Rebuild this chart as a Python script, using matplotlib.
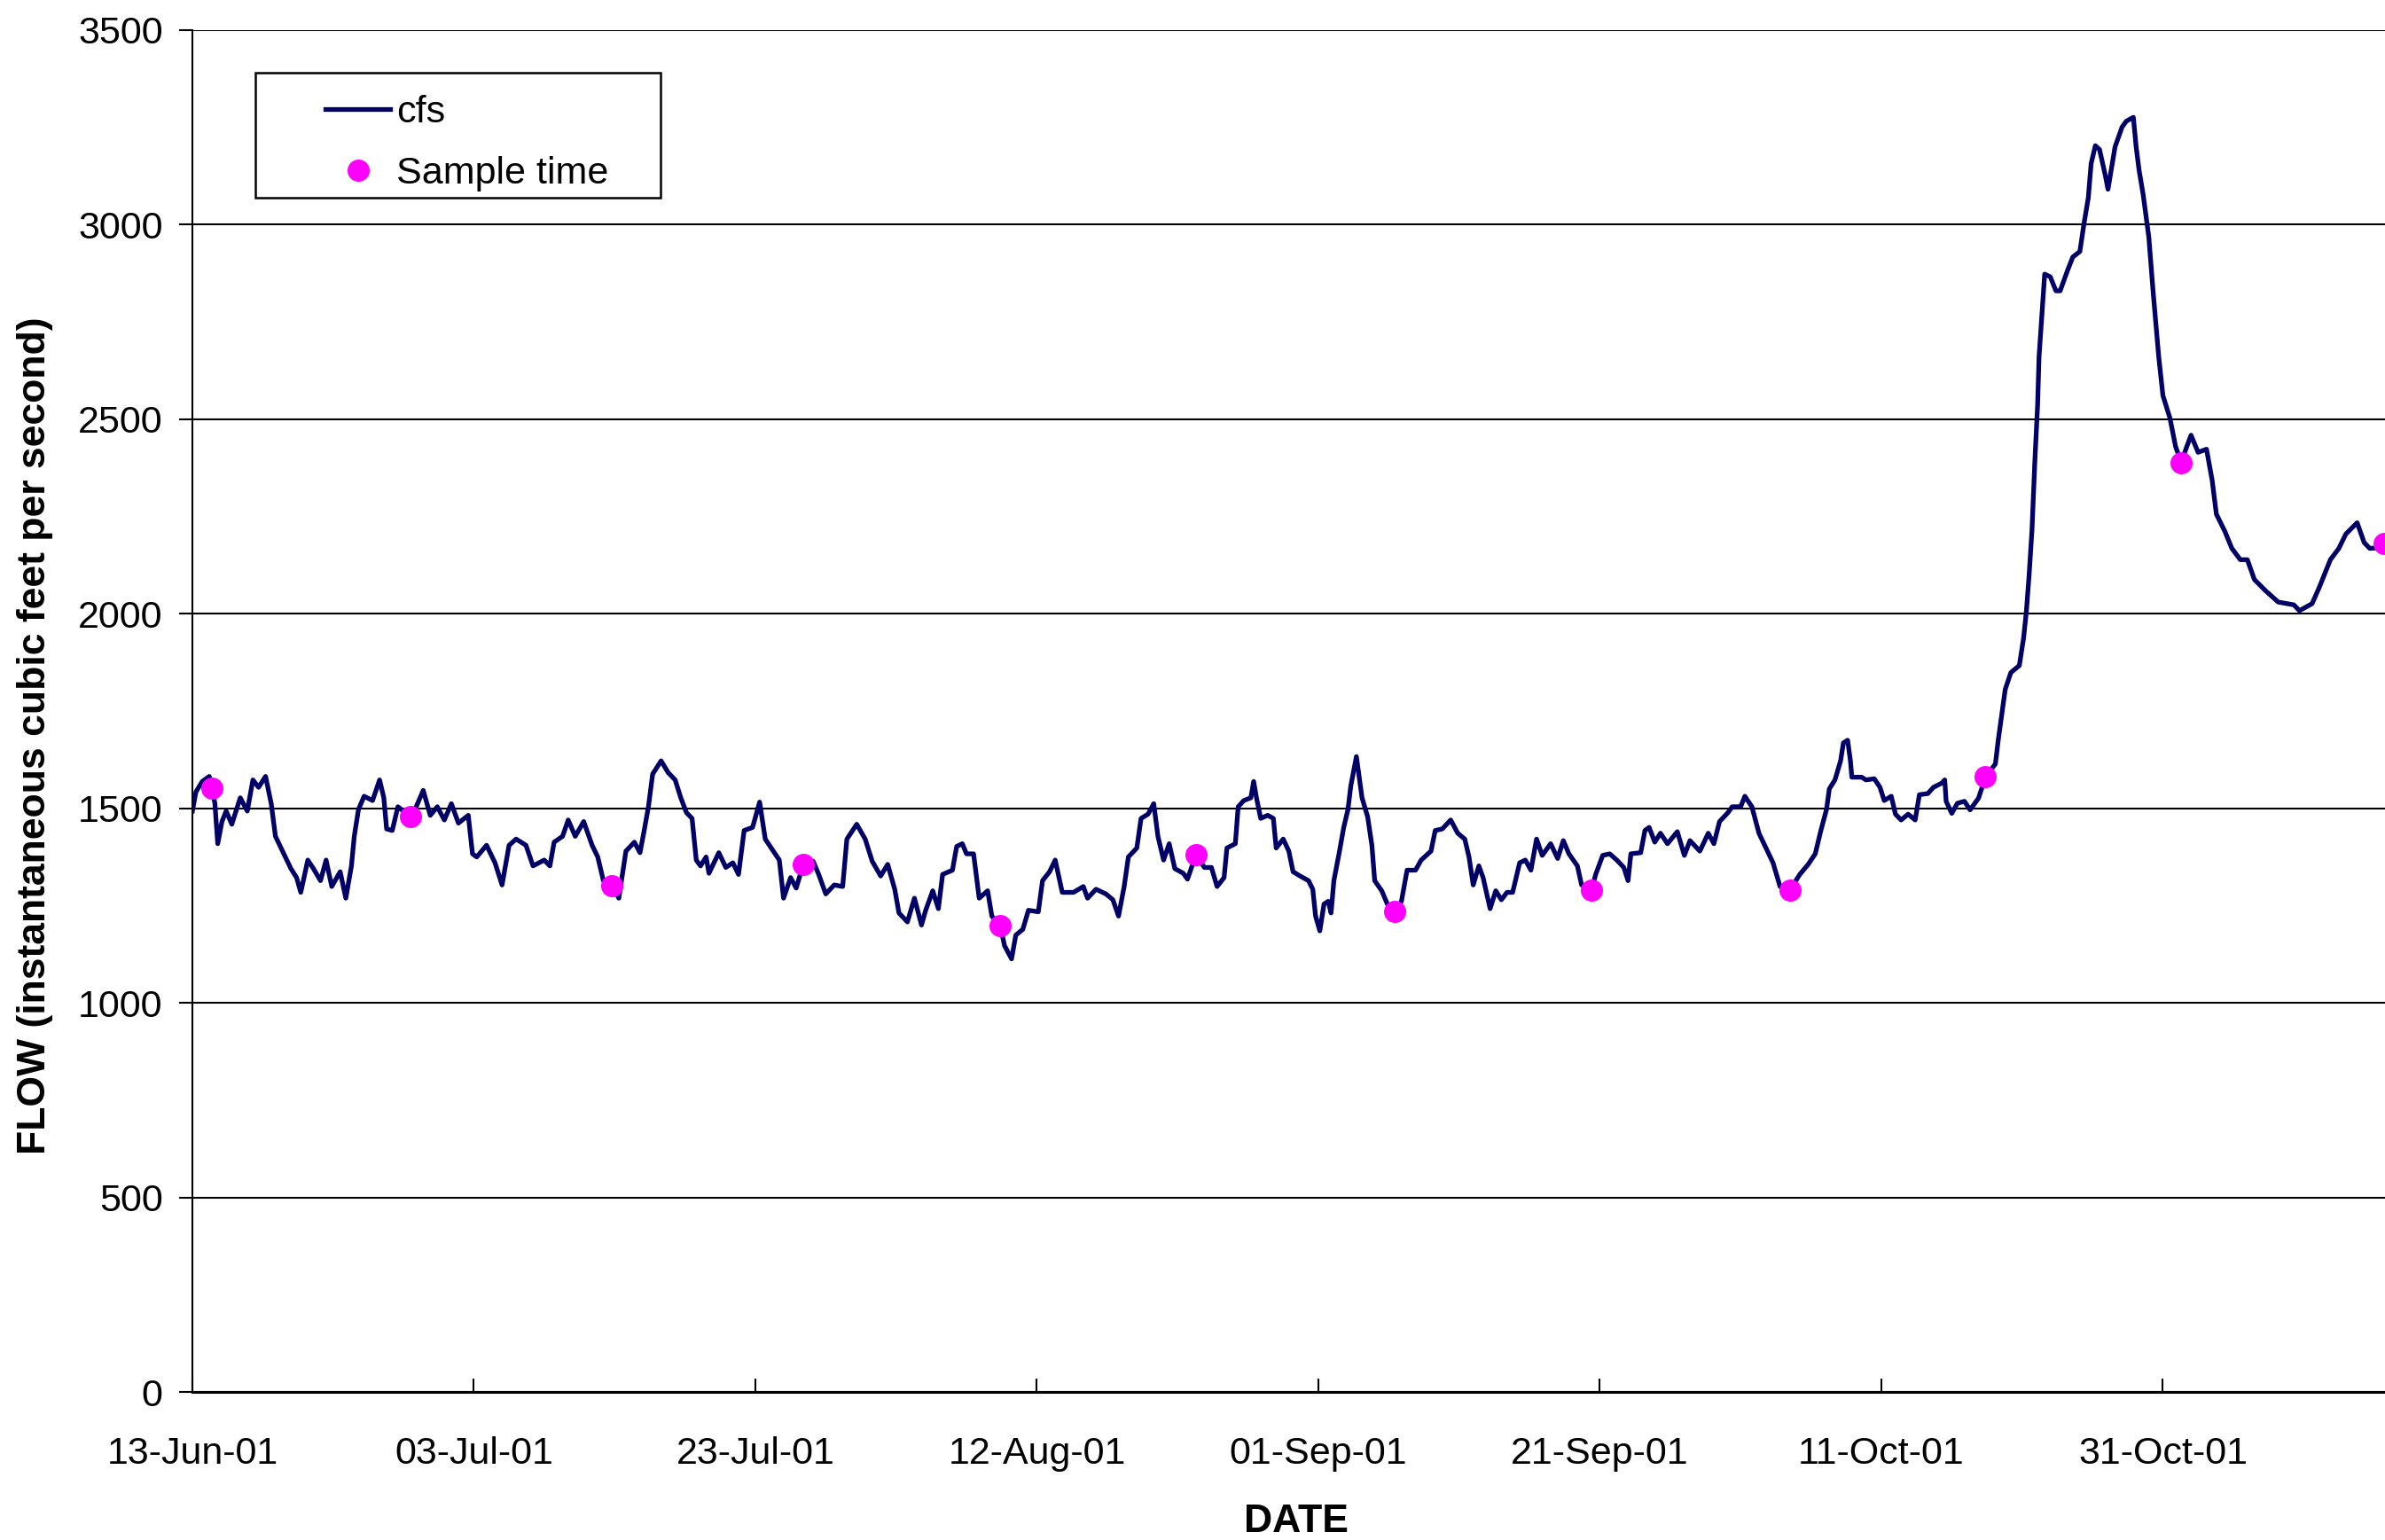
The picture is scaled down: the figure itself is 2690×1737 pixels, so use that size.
import pandas as pd
import matplotlib
matplotlib.use("Agg")
import matplotlib.pyplot as plt
import matplotlib.dates as mdates
from matplotlib.patches import Rectangle

plt.rcParams['font.family'] = ['Liberation Sans', 'DejaVu Sans']

start = pd.Timestamp("2001-06-13")

# days since 13-Jun-01, flow in cfs
flow_day = [
    0.0, 0.25, 0.7, 1.2, 1.4, 1.6, 1.8, 2.1, 2.4, 2.8, 3.4, 3.9, 4.3, 4.7, 5.2, 5.6, 5.9, 6.5, 7.0, 7.4,
    7.7, 8.2, 8.6, 9.1, 9.5, 9.9, 10.5, 10.9, 11.3, 11.5, 11.8, 12.2, 12.8, 13.3, 13.6, 13.8, 14.2, 14.6,
    15.5, 15.9, 16.4, 16.9, 17.4, 17.9, 18.4, 18.9, 19.6, 19.9, 20.2, 20.9, 21.5, 22.0, 22.5, 23.0, 23.7,
    24.2, 25.0, 25.4, 25.7, 26.3, 26.7, 27.2, 27.8, 28.4, 28.8, 29.2, 29.8, 30.3, 30.8, 31.4, 31.8, 32.1,
    32.4, 32.7, 33.3, 33.8, 34.3, 34.7, 35.1, 35.5, 35.8, 36.1, 36.5, 36.7, 37.4, 37.9, 38.4, 38.8, 39.2,
    39.8, 40.3, 40.7, 41.2, 41.7, 42.0, 42.5, 42.9, 43.4, 44.1, 44.5, 45.0, 45.6, 46.2, 46.5, 47.2, 47.8,
    48.3, 48.9, 49.4, 49.9, 50.2, 50.8, 51.3, 51.8, 52.1, 52.6, 53.0, 53.3, 54.0, 54.3, 54.7, 55.0, 55.5,
    55.9, 56.5, 56.8, 57.4, 57.7, 58.2, 58.5, 59.0, 59.4, 60.1, 60.4, 60.9, 61.3, 61.8, 62.6, 63.3, 63.6,
    64.2, 64.9, 65.4, 65.8, 66.2, 66.5, 67.1, 67.4, 67.9, 68.3, 68.6, 69.0, 69.4, 69.8, 70.4, 70.7, 71.3,
    71.9, 72.4, 72.8, 73.3, 73.5, 74.1, 74.3, 74.7, 75.2, 75.4, 75.6, 75.9, 76.4, 76.8, 77.0, 77.5, 77.9,
    78.2, 78.7, 79.3, 79.6, 79.8, 80.1, 80.4, 80.7, 80.9, 81.1, 81.5, 81.8, 82.1, 82.3, 82.5, 82.7, 82.9,
    83.1, 83.5, 83.8, 84.0, 84.5, 84.9, 85.4, 85.9, 86.3, 86.9, 87.3, 88.0, 88.3, 88.8, 89.4, 89.9, 90.4,
    90.7, 91.0, 91.4, 91.7, 92.2, 92.6, 93.0, 93.4, 93.8, 94.3, 94.7, 95.1, 95.5, 95.9, 96.5, 97.0, 97.4,
    97.8, 98.4, 98.7, 99.4, 99.7, 100.2, 100.7, 101.2, 101.7, 102.0, 102.2, 102.9, 103.2, 103.5, 103.9,
    104.3, 104.8, 105.5, 106.0, 106.4, 107.1, 107.7, 108.1, 108.5, 109.1, 109.4, 110.0, 110.3, 110.8,
    111.3, 111.8, 112.3, 112.8, 113.5, 114.2, 114.8, 115.3, 115.7, 116.1, 116.3, 116.7, 117.1, 117.3,
    117.6, 117.8, 117.9, 118.6, 118.9, 119.5, 119.9, 120.2, 120.7, 121.0, 121.4, 121.9, 122.4, 122.7,
    123.3, 123.7, 124.3, 124.5, 124.6, 125.0, 125.4, 125.9, 126.3, 126.9, 127.4, 128.1, 128.3, 128.6,
    128.8, 129.2, 129.8, 130.1, 130.3, 130.5, 130.7, 130.9, 131.1, 131.2, 131.4, 131.6, 132.0, 132.4,
    132.7, 133.2, 133.6, 134.1, 134.4, 134.7, 134.9, 135.2, 135.5, 135.9, 136.1, 136.3, 136.6, 137.1,
    137.4, 137.9, 138.1, 138.3, 138.6, 139.0, 139.3, 139.7, 140.0, 140.5, 140.9, 141.3, 141.7, 142.0,
    142.5, 143.1, 143.5, 143.8, 144.4, 144.9, 145.5, 146.0, 146.5, 147.3, 148.2, 149.3, 149.7, 150.6,
    151.1, 151.9, 152.5, 153.0, 153.8, 154.3, 154.7, 155.8, 156.5,
]
flow_cfs = [
    1493, 1542, 1569, 1582, 1551, 1512, 1409, 1466, 1493, 1459, 1527, 1493, 1573, 1554, 1582, 1512, 1428, 1383, 1345, 1322,
    1284, 1367, 1345, 1314, 1367, 1299, 1337, 1269, 1352, 1428, 1497, 1531, 1520, 1573, 1527, 1447, 1443, 1504,
    1478, 1504, 1546, 1482, 1504, 1470, 1512, 1462, 1482, 1383, 1375, 1405, 1360, 1303, 1405, 1421, 1405,
    1352, 1367, 1352, 1413, 1428, 1470, 1428, 1466, 1405, 1375, 1314, 1301, 1269, 1390, 1413, 1386, 1443,
    1504, 1588, 1622, 1592, 1573, 1527, 1489, 1474, 1367, 1352, 1375, 1333, 1386, 1348, 1360, 1330, 1443,
    1451, 1516, 1421, 1394, 1367, 1269, 1322, 1295, 1356, 1364, 1330, 1280, 1303, 1299, 1421, 1459, 1421,
    1364, 1326, 1356, 1292, 1231, 1208, 1269, 1200, 1238, 1288, 1242, 1330, 1341, 1402, 1409, 1383, 1383,
    1269, 1288, 1223, 1198, 1147, 1113, 1174, 1189, 1238, 1234, 1314, 1337, 1367, 1284, 1284, 1299, 1269,
    1292, 1280, 1265, 1223, 1299, 1375, 1398, 1474, 1485, 1512, 1428, 1367, 1409, 1345, 1333, 1318, 1381,
    1348, 1348, 1299, 1322, 1398, 1409, 1504, 1520, 1527, 1569, 1527, 1474, 1482, 1474, 1398, 1421, 1390,
    1337, 1326, 1314, 1292, 1223, 1185, 1254, 1261, 1231, 1314, 1390, 1451, 1497, 1557, 1595, 1633, 1580,
    1527, 1478, 1405, 1314, 1288, 1254, 1235, 1261, 1341, 1341, 1367, 1390, 1443, 1447, 1470, 1436, 1421,
    1375, 1303, 1352, 1322, 1242, 1288, 1265, 1284, 1284, 1360, 1367, 1341, 1421, 1379, 1409, 1371, 1417,
    1383, 1352, 1303, 1290, 1330, 1379, 1383, 1367, 1348, 1314, 1383, 1386, 1443, 1451, 1413,
    1436, 1409, 1440, 1379, 1417, 1390, 1436, 1409, 1466, 1489, 1504, 1504, 1531, 1504,
    1436, 1398, 1360, 1299, 1290, 1330, 1356, 1383, 1443, 1497, 1550, 1573, 1622, 1668,
    1675, 1622, 1580, 1580, 1573, 1576, 1554, 1520, 1531, 1485, 1470, 1485, 1470, 1535,
    1538, 1554, 1565, 1573, 1518, 1487, 1513, 1518, 1496, 1526, 1581, 1614, 1675, 1753,
    1806, 1849, 1867, 1937, 2006, 2102, 2216, 2390, 2538, 2660, 2765, 2873, 2866, 2830,
    2830, 2880, 2917, 2931, 3004, 3069, 3157, 3203, 3193, 3128, 3091, 3135, 3200, 3251,
    3266, 3276, 3200, 3142, 3077, 2968, 2830, 2662, 2561, 2503, 2430, 2389, 2430, 2459,
    2415, 2423, 2343, 2256, 2212, 2168, 2139, 2139, 2088, 2059, 2030, 2023, 2008, 2026,
    2067, 2139, 2168, 2205, 2234, 2183, 2168, 2171, 2171,
]

sample_day = [1.4, 15.5, 29.8, 43.4, 57.4, 71.3, 85.4, 99.4, 113.5, 127.4, 141.3, 155.7]
sample_cfs = [1551, 1478, 1301, 1356, 1198, 1381, 1235, 1290, 1290, 1581, 2389, 2181]

flow_dates = start + pd.to_timedelta(flow_day, unit="D")
sample_dates = start + pd.to_timedelta(sample_day, unit="D")
tick_dates = pd.date_range(start, periods=8, freq="20D")

W, H = 2690, 1737
fig = plt.figure(figsize=(W / 100, H / 100), dpi=100)
ax = fig.add_axes([217 / W, (H - 1570) / H, 1 - 217 / W, (1570 - 34) / H])

ax.plot(flow_dates, flow_cfs, color="#000066", lw=3.8, label="cfs", zorder=3)
ax.plot(sample_dates, sample_cfs, "o", color="#ff00ff", ms=17, mec="#ff00ff",
        label="Sample time", zorder=4)

ax.set_ylim(0, 3500)
ax.set_yticks(range(0, 3501, 500))
ax.set_xticks(tick_dates)
ax.set_xlim(start, start + pd.Timedelta(days=155.78))
ax.xaxis.set_major_formatter(mdates.DateFormatter("%d-%b-%y"))

ax.yaxis.grid(True, color="black", lw=1.5)
ax.set_axisbelow(True)
for s in ["top", "right"]:
    ax.spines[s].set_visible(False)
ax.spines["left"].set_linewidth(1.5)
ax.spines["bottom"].set_linewidth(2.2)

ax.tick_params(axis="y", direction="out", length=11, width=1.5, pad=13, labelsize=31)
ax.tick_params(axis="x", direction="in", length=11, width=1.5, pad=36, labelsize=31)

ax.set_xlabel("DATE", fontsize=32, fontweight="bold")
ax.xaxis.set_label_coords(0.5034, -0.082)
ax.set_ylabel("FLOW (instantaneous cubic feet per second)", fontsize=32, fontweight="bold")
ax.yaxis.set_label_coords((60 - 217) / (W - 217), 0.482)

leg = ax.legend(loc="upper left", bbox_to_anchor=((350 - 217) / (W - 217), (1570 - 90) / 1536),
                frameon=False, fontsize=31, handlelength=1.7, handletextpad=0.15,
                labelspacing=0.68, borderpad=0.4, borderaxespad=0)
fig.patches.append(Rectangle((288 / W, 1 - 223 / H), (745 - 288) / W, (223 - 82) / H,
                             transform=fig.transFigure, fill=False, edgecolor="black", lw=1.8))

plt.savefig("out.png", dpi=100)
